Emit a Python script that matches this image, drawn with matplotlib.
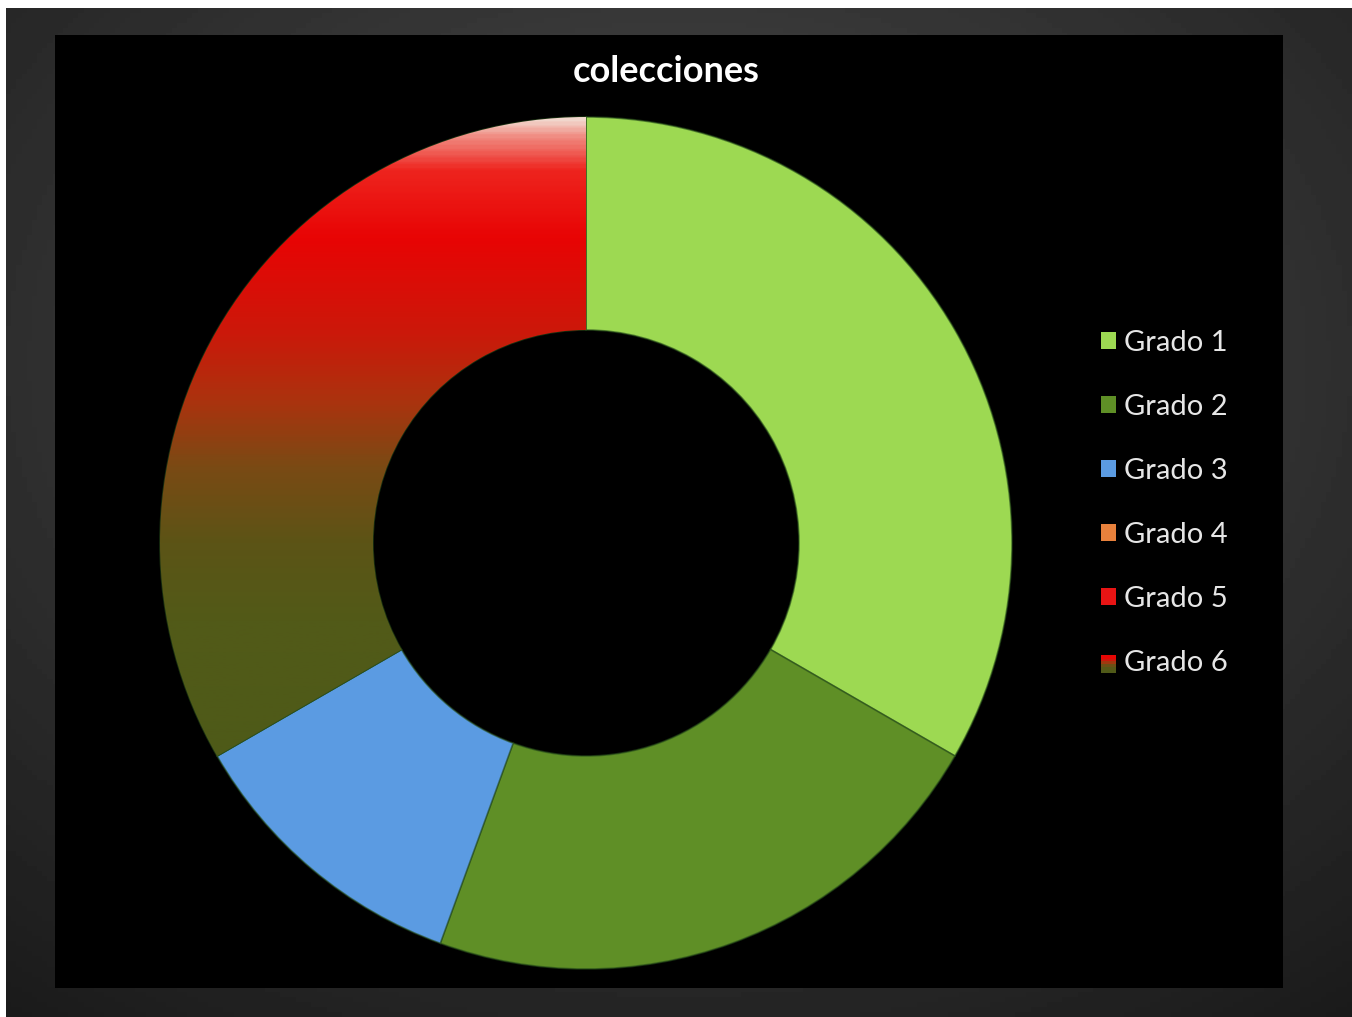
import matplotlib.pyplot as plt
import numpy as np
from matplotlib.colors import LinearSegmentedColormap
from matplotlib.patches import Rectangle
from matplotlib.legend_handler import HandlerBase

# data
labels = ['Grado 1', 'Grado 2', 'Grado 3', 'Grado 4', 'Grado 5', 'Grado 6']
values = [3, 2, 1, 0, 0, 3]
colors = ['#9dd952', '#5f8f26', '#5b9be2', '#e8813c', '#e81414', '#c02a10']
title = 'colecciones'

# gradient used for the Grado 6 slice (bottom -> top)
grad_stops = [
    (0.00, (78, 90, 24)),
    (0.25, (78, 90, 24)),
    (0.41, (82, 90, 24)),
    (0.50, (92, 84, 22)),
    (0.59, (122, 74, 20)),
    (0.67, (172, 50, 14)),
    (0.75, (204, 24, 10)),
    (0.86, (232, 4, 4)),
    (0.94, (238, 36, 30)),
    (0.98, (240, 140, 130)),
    (1.00, (242, 215, 205)),
]
grad_cmap = LinearSegmentedColormap.from_list(
    'g6', [(t, tuple(c / 255 for c in rgb)) for t, rgb in grad_stops])

W, H = 1352, 1017
fig = plt.figure(figsize=(W / 100, H / 100), dpi=100, facecolor='white')

# gray frame around the slide
bg = fig.add_axes([6 / W, 0, 1 - 6 / W, 1 - 8 / H])
yy, xx = np.mgrid[-1:1:200j, -1:1:260j]
rr = np.sqrt(xx ** 2 + (yy + 0.3) ** 2)
bg.imshow(0.30 - 0.12 * rr, cmap='gray', vmin=0, vmax=1, aspect='auto',
          extent=[0, 1, 0, 1])
bg.axis('off')

# black chart area
panel = fig.add_axes([55 / W, 1 - 988 / H, (1283 - 55) / W, (988 - 35) / H])
panel.set_facecolor('black')
panel.set_xticks([])
panel.set_yticks([])
for s in panel.spines.values():
    s.set_visible(False)

# donut
cx, cy, r = 586, 543, 426
ax = fig.add_axes([(cx - r) / W, (H - cy - r) / H, 2 * r / W, 2 * r / H])
ax.set_facecolor('none')
wedges, _ = ax.pie(values, colors=colors, startangle=90, counterclock=False,
                   radius=1, wedgeprops=dict(width=0.5, edgecolor=(0.15, 0.3, 0.1, 0.6),
                                             linewidth=1.2))
ax.set_aspect('equal')

g = np.linspace(0, 1, 400).reshape(-1, 1)
im = ax.imshow(g, cmap=grad_cmap, origin='lower', extent=[-1, 1, -1, 1],
               aspect='auto', zorder=wedges[5].get_zorder() + 0.1)
im.set_clip_path(wedges[5])
wedges[5].set_facecolor('none')

ax.set_xlim(-1, 1)
ax.set_ylim(-1, 1)

fig.text(666 / W, 1 - 71 / H, title, color='white', fontsize=26,
         fontweight='bold', family='Lato', ha='center', va='center')


class GradHandler(HandlerBase):
    def create_artists(self, legend, orig_handle, xd, yd, w, h, fontsize, trans):
        n = 6
        arts = []
        for i in range(n):
            c = grad_cmap(0.3 + 0.6 * (i + 0.5) / n)
            arts.append(Rectangle((xd, yd + h * i / n), w, h / n + 0.3, facecolor=c,
                                  edgecolor='none', transform=trans))
        return arts


handles = [Rectangle((0, 0), 1, 1, facecolor=c, edgecolor='none') for c in colors]
leg = fig.legend(handles, labels, loc='upper left',
                 bbox_to_anchor=(1075 / W, 1 - 304 / H),
                 frameon=False, handlelength=0.52, handleheight=0.52,
                 handletextpad=0.25, labelspacing=1.3,
                 prop=dict(family='Lato', size=21),
                 labelcolor='#e6e6e6',
                 handler_map={handles[5]: GradHandler()})

fig.savefig('out.png', dpi=100, facecolor=fig.get_facecolor())
